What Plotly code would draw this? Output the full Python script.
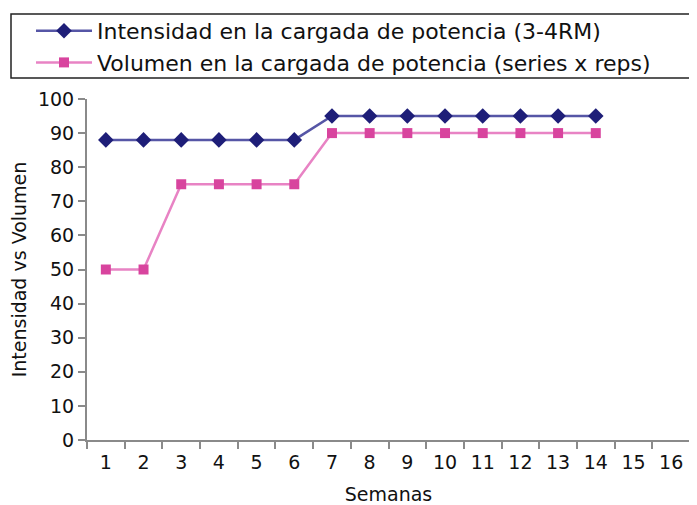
import plotly.graph_objects as go

weeks = [str(i) for i in range(1, 17)]
weeks_data = [str(i) for i in range(1, 15)]
intensidad = [88, 88, 88, 88, 88, 88, 95, 95, 95, 95, 95, 95, 95, 95]
volumen = [50, 50, 75, 75, 75, 75, 90, 90, 90, 90, 90, 90, 90, 90]
y_ticks = list(range(0, 101, 10))

FONT = "DejaVu Sans"
AX = "#8a8a8a"
OFF = 8  # page body margin
W, H = 697 - OFF, 505 - OFF
L, R, T, B = 87 - OFF, 7, 99 - OFF, 65
PW, PH = W - L - R, H - T - B


def px_x(x):  # page x -> paper x
    return (x - OFF - L) / PW


def px_y(y):  # page y -> paper y
    return 1 + (T - (y - OFF)) / PH


fig = go.Figure()
fig.add_trace(go.Scatter(
    x=weeks_data, y=intensidad, mode="lines+markers",
    name="Intensidad en la cargada de potencia (3-4RM)",
    line=dict(color="#5656a6", width=2.5),
    marker=dict(symbol="diamond", size=12, color="#1e1e78"),
))
fig.add_trace(go.Scatter(
    x=weeks_data, y=volumen, mode="lines+markers",
    name="Volumen en la cargada de potencia (series x reps)",
    line=dict(color="#e883c4", width=2.5),
    marker=dict(symbol="square", size=10, color="#d8449e"),
))

fig.update_layout(
    width=W, height=H,
    margin=dict(l=L, r=R, t=T, b=B, autoexpand=False),
    paper_bgcolor="white", plot_bgcolor="white",
    font=dict(family=FONT, size=19, color="#111111"),
    showlegend=True,
    legend=dict(
        x=px_x(31), y=px_y(10),
        xanchor="left", yanchor="top",
        bgcolor="rgba(0,0,0,0)", borderwidth=0,
        font=dict(family=FONT, size=22, color="#111111"),
        itemwidth=56, tracegroupgap=0,
    ),
    shapes=[
        dict(type="rect", xref="paper", yref="paper",
             x0=px_x(11), x1=px_x(712),
             y0=px_y(78), y1=px_y(14),
             line=dict(color="#222222", width=1.5), fillcolor="rgba(0,0,0,0)"),
    ],
    xaxis=dict(
        type="category", categoryorder="array", categoryarray=weeks,
        range=[-0.5, 15.5], tickson="boundaries",
        ticks="outside", ticklen=7, tickwidth=2, tickcolor=AX,
        showline=True, linecolor=AX, linewidth=2,
        showgrid=False, zeroline=False, automargin=False,
        ticklabelstandoff=4,
        title=dict(text="Semanas", font=dict(family=FONT, size=19), standoff=20),
        tickfont=dict(family=FONT, size=19),
    ),
    yaxis=dict(
        range=[0, 100], tickvals=y_ticks,
        ticks="outside", ticklen=7, tickwidth=2, tickcolor=AX,
        showline=True, linecolor=AX, linewidth=2,
        showgrid=False, zeroline=False, automargin=False,
        title=dict(text="Intensidad vs Volumen", font=dict(family=FONT, size=19), standoff=9),
        tickfont=dict(family=FONT, size=19),
    ),
)

fig.write_html("out.html")
